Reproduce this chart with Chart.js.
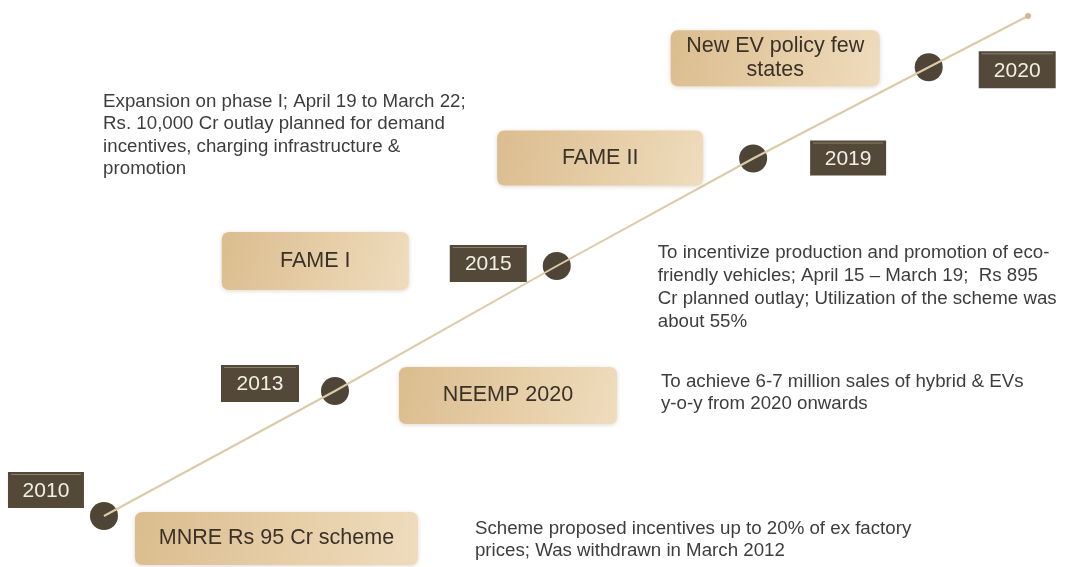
<!DOCTYPE html>
<html>
<head>
<meta charset="utf-8">
<script src="https://cdn.jsdelivr.net/npm/chart.js@4.4.1/dist/chart.umd.min.js"></script>
<style>
  body { margin: 0; background: #ffffff; }
  #wrap { width: 1065px; height: 567px; }
</style>
</head>
<body>
<div id="wrap"><canvas id="timeline" width="1065" height="567"></canvas></div>
<script>
// timeline milestones (position along the rising line)
const years = ['2010', '2013', '2015', '2019', '2020'];
const schemes = [
    ['MNRE Rs 95 Cr scheme'],
    ['NEEMP 2020'],
    ['FAME I'],
    ['FAME II'],
    ['New EV policy few', 'states']
];
const notes = [
    ['Scheme proposed incentives up to 20% of ex factory', 'prices; Was withdrawn in March 2012'],
    ['To achieve 6-7 million sales of hybrid & EVs', 'y-o-y from 2020 onwards'],
    ['To incentivize production and promotion of eco-', 'friendly vehicles; April 15 \u2013 March 19;  Rs 895', 'Cr planned outlay; Utilization of the scheme was', 'about 55%'],
    ['Expansion on phase I; April 19 to March 22;', 'Rs. 10,000 Cr outlay planned for demand', 'incentives, charging infrastructure &', 'promotion'],
    []
];
const stepX = [0, 1, 1.96, 2.81, 3.57];
const stepY = [0, 1, 2, 2.86, 3.59];
const lineEnd = { x: 4, y: 4 };

// where each label sits relative to its milestone dot (px)
const layout = [
    { year: [-96, -44, 76, 36], box: [31, -4, 283, 53], note: [371, 13, 22] },
    { year: [-114, -26, 78, 37], box: [64, -24, 218, 57], note: [326, -9, 22] },
    { year: [-107, -21, 77, 37], box: [-335, -34, 187, 58], note: [101, -13, 23] },
    { year: [57, -18, 76, 35], box: [-256, -28, 206, 55], note: [-650, -57, 22.5] },
    { year: [50, -16, 77, 37], box: [-258, -37, 209, 56], note: [0, 0, 0] }
];

const milestonePoints = stepX.map((x, i) => ({ x: x, y: stepY[i] }));
const linePoints = milestonePoints.concat([lineEnd]);

function roundRect(ctx, x, y, w, h, r) {
    ctx.beginPath();
    ctx.moveTo(x + r, y);
    ctx.lineTo(x + w - r, y);
    ctx.quadraticCurveTo(x + w, y, x + w, y + r);
    ctx.lineTo(x + w, y + h - r);
    ctx.quadraticCurveTo(x + w, y + h, x + w - r, y + h);
    ctx.lineTo(x + r, y + h);
    ctx.quadraticCurveTo(x, y + h, x, y + h - r);
    ctx.lineTo(x, y + r);
    ctx.quadraticCurveTo(x, y, x + r, y);
    ctx.closePath();
}

const labelPlugin = {
    id: 'timelineLabels',
    afterDatasetsDraw(chart) {
        const ctx = chart.ctx;
        const meta = chart.getDatasetMeta(1);
        ctx.save();
        meta.data.forEach((pt, i) => {
            const L = layout[i];
            const cx = pt.x, cy = pt.y;

            // scheme box
            const [bx, by, bw, bh] = L.box;
            const x0 = cx + bx, y0 = cy + by;
            const grad = ctx.createLinearGradient(x0, y0, x0 + bw, y0 + bh);
            grad.addColorStop(0, '#dbbd8e');
            grad.addColorStop(1, '#efdcbd');
            ctx.save();
            ctx.shadowColor = 'rgba(120, 95, 60, 0.25)';
            ctx.shadowBlur = 4;
            ctx.shadowOffsetY = 1;
            roundRect(ctx, x0, y0, bw, bh, 8);
            ctx.fillStyle = grad;
            ctx.fill();
            ctx.restore();
            ctx.fillStyle = '#3a3128';
            ctx.font = '21.5px "Liberation Sans", Arial, sans-serif';
            ctx.textAlign = 'center';
            ctx.textBaseline = 'middle';
            const lines = schemes[i];
            const lh = 24;
            lines.forEach((s, k) => {
                ctx.fillText(s, x0 + bw / 2, y0 + bh / 2 + (k - (lines.length - 1) / 2) * lh);
            });

            // year tag
            const [yx, yy, yw, yh] = L.year;
            ctx.fillStyle = '#544939';
            ctx.fillRect(cx + yx, cy + yy, yw, yh);
            ctx.fillStyle = '#8a8070';
            ctx.fillRect(cx + yx + 3, cy + yy + 2, yw - 6, 1);
            ctx.fillStyle = '#f2eee6';
            ctx.font = '21px "Liberation Sans", Arial, sans-serif';
            ctx.fillText(years[i], cx + yx + yw / 2, cy + yy + yh / 2 + 1);

            // note text
            ctx.fillStyle = '#3d3d3d';
            ctx.font = '18.7px "Liberation Sans", Arial, sans-serif';
            ctx.textAlign = 'left';
            notes[i].forEach((s, k) => {
                ctx.fillText(s, cx + L.note[0], cy + L.note[1] + k * L.note[2]);
            });
        });
        ctx.restore();
    }
};

new Chart(document.getElementById('timeline'), {
    type: 'scatter',
    data: {
        datasets: [
            {
                data: linePoints,
                showLine: true,
                borderColor: '#dccaa8',
                borderWidth: 2,
                pointRadius: linePoints.map((p, i) => i === linePoints.length - 1 ? 3 : 0),
                pointBackgroundColor: '#d9b58f',
                pointBorderWidth: 0
            },
            {
                data: milestonePoints,
                pointRadius: 14,
                pointBackgroundColor: '#4f4536',
                pointBorderColor: '#4f4536',
                pointBorderWidth: 0
            }
        ]
    },
    options: {
        responsive: false,
        animation: false,
        layout: { padding: 0, autoPadding: false },
        plugins: { legend: { display: false }, tooltip: { enabled: false } },
        scales: {
            x: { type: 'linear', display: false, min: -0.45, max: 4.16 },
            y: { type: 'linear', display: false, min: -0.408, max: 4.128 }
        }
    },
    plugins: [labelPlugin]
});
</script>
</body>
</html>
